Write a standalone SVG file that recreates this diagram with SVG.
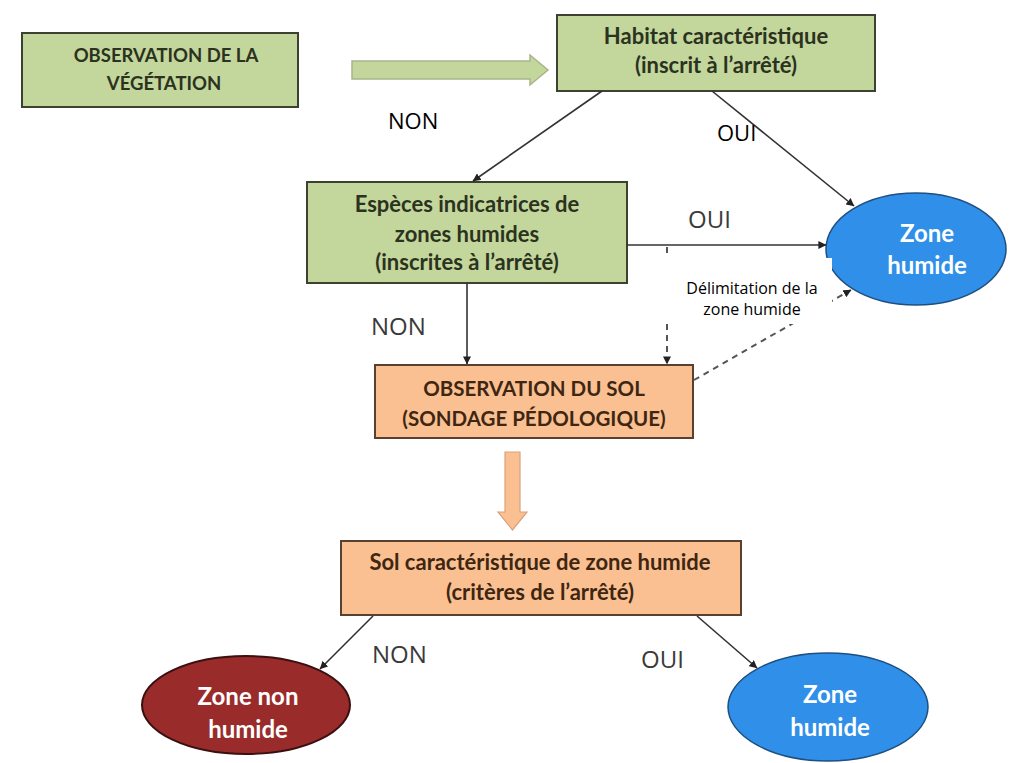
<svg xmlns="http://www.w3.org/2000/svg" width="1010" height="763" viewBox="0 0 1010 763">
  <defs>
    <style>
      .veg { fill: #c3d69b; stroke: #3d4230; stroke-width: 2; }
      .sol { fill: #fac091; stroke: #5a4030; stroke-width: 2; }
      .bleu { fill: #2f8fe9; stroke: #1f4f80; stroke-width: 1.5; }
      .rouge { fill: #992b2b; stroke: #3a1010; stroke-width: 2; }
      .tv { font-family: Lato, "Liberation Sans", sans-serif; font-weight: bold; fill: #2b3220; text-anchor: middle; }
      .ts { font-family: Lato, "Liberation Sans", sans-serif; font-weight: bold; fill: #3e2612; text-anchor: middle; }
      .tw { font-family: Lato, "Liberation Sans", sans-serif; font-weight: bold; font-size: 24px; fill: #ffffff; text-anchor: middle; }
      .lab { font-family: "Open Sans", "Liberation Sans", sans-serif; font-size: 22px; fill: #000; }
      .lab2 { font-family: "Open Sans", "Liberation Sans", sans-serif; font-size: 24px; fill: #3a3a3a; }
      .note { font-family: "Open Sans", "Liberation Sans", sans-serif; font-size: 16px; fill: #000; text-anchor: middle; }
      .fl { stroke: #333; stroke-width: 1.6; fill: none; marker-end: url(#pointe); }
      .pt { stroke: #555; stroke-width: 2; fill: none; stroke-dasharray: 6 5; marker-end: url(#pointe); }
    </style>
    <marker id="pointe" viewBox="0 0 10 10" refX="9.5" refY="5" markerWidth="8" markerHeight="8" orient="auto" markerUnits="userSpaceOnUse">
      <path d="M0,0 L10,5 L0,10 z" fill="#222"/>
    </marker>
  </defs>

  <rect width="1010" height="763" fill="#ffffff"/>

  <g id="observation-vegetation">
    <rect class="veg" x="22" y="33" width="276" height="74"/>
    <text class="tv" x="166" y="62" font-size="18.5">OBSERVATION DE LA</text>
    <text class="tv" x="164" y="90" font-size="18.5">VÉGÉTATION</text>
  </g>

  <g id="habitat">
    <rect class="veg" x="557" y="15" width="318" height="76"/>
    <text class="tv" x="716" y="44" font-size="22">Habitat caractéristique</text>
    <text class="tv" x="716" y="73" font-size="22">(inscrit à l’arrêté)</text>
  </g>

  <g id="especes">
    <rect class="veg" x="307" y="182" width="320" height="101"/>
    <text class="tv" x="467" y="212" font-size="22">Espèces indicatrices de</text>
    <text class="tv" x="467" y="242" font-size="22">zones humides</text>
    <text class="tv" x="467" y="270" font-size="22">(inscrites à l’arrêté)</text>
  </g>

  <g id="zone-humide-1">
    <ellipse class="bleu" cx="916" cy="249" rx="90" ry="56"/>
    <text class="tw" x="927" y="242">Zone</text>
    <text class="tw" x="927" y="274">humide</text>
  </g>

  <g id="observation-sol">
    <rect class="sol" x="375" y="365" width="318" height="73"/>
    <text class="ts" x="534" y="396" font-size="20.5">OBSERVATION DU SOL</text>
    <text class="ts" x="534" y="426" font-size="20.5">(SONDAGE PÉDOLOGIQUE)</text>
  </g>

  <g id="sol-caracteristique">
    <rect class="sol" x="341" y="541" width="400" height="74"/>
    <text class="ts" x="540" y="570" font-size="22">Sol caractéristique de zone humide</text>
    <text class="ts" x="540" y="600" font-size="22">(critères de l’arrêté)</text>
  </g>

  <g id="zone-non-humide">
    <ellipse class="rouge" cx="246" cy="705" rx="104" ry="49"/>
    <text class="tw" x="248" y="705">Zone non</text>
    <text class="tw" x="248" y="738">humide</text>
  </g>

  <g id="zone-humide-2">
    <ellipse class="bleu" cx="828" cy="707" rx="100" ry="54"/>
    <text class="tw" x="830" y="703">Zone</text>
    <text class="tw" x="830" y="736">humide</text>
  </g>

  <!-- connectors -->
  <g id="connecteurs">
    <!-- block arrow végétation -> habitat -->
    <path d="M352,61 H530 V55 L548,70 L530,85 V79 H352 z" fill="#c3d69b" stroke="#a8b58c" stroke-width="1.5"/>
    <line class="fl" x1="602" y1="91" x2="473" y2="181"/>
    <line class="fl" x1="712" y1="91" x2="854" y2="206"/>
    <line class="fl" x1="627" y1="245" x2="826" y2="245"/>
    <line class="fl" x1="467" y1="283" x2="467" y2="364"/>
    <line class="pt" x1="667" y1="247" x2="667" y2="364"/>
    <line class="pt" x1="694" y1="380" x2="851" y2="290"/>
    <!-- block arrow sol -> critères -->
    <path d="M505,452 H520 V512 H527 L512.5,530 L498,512 H505 z" fill="#fac091" stroke="#d9a27a" stroke-width="1.2"/>
    <line class="fl" x1="373" y1="616" x2="320" y2="669"/>
    <line class="fl" x1="697" y1="616" x2="757" y2="668"/>
  </g>

  <g id="labels">
    <text class="lab" x="388" y="129">NON</text>
    <text class="lab" x="717" y="141">OUI</text>
    <text class="lab2" x="688" y="228">OUI</text>
    <text class="lab2" x="371" y="335">NON</text>
    <text class="lab2" x="372" y="663">NON</text>
    <text class="lab2" x="641" y="668">OUI</text>
  </g>

  <g id="delimitation">
    <rect x="652" y="258" width="180" height="66" fill="#ffffff"/>
    <text class="note" x="752" y="294">Délimitation de la</text>
    <text class="note" x="752" y="315">zone humide</text>
  </g>
</svg>
